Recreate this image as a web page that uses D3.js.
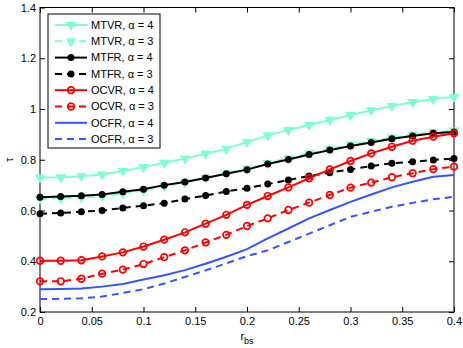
<!DOCTYPE html>
<html>
<head>
<meta charset="utf-8">
<script src="https://cdn.jsdelivr.net/npm/d3@7"></script>
<style>
  body { margin: 0; background: #fff; }
  svg { font-family: "Liberation Sans", Arial, sans-serif; }
</style>
</head>
<body>
<div id="chart"></div>
<script>
'use strict';

const rbs = [0, 0.02, 0.04, 0.06, 0.08, 0.1, 0.12, 0.14, 0.16, 0.18, 0.2,
  0.22, 0.24, 0.26, 0.28, 0.3, 0.32, 0.34, 0.36, 0.38, 0.4];

const mtvr4 = [0.73, 0.731, 0.735, 0.742, 0.756, 0.771, 0.788, 0.805, 0.824, 0.843, 0.87,
  0.896, 0.917, 0.937, 0.957, 0.976, 0.995, 1.012, 1.027, 1.039, 1.048];
const mtvr3 = [0.646, 0.648, 0.651, 0.656, 0.667, 0.679, 0.696, 0.711, 0.729, 0.747, 0.765,
  0.787, 0.806, 0.825, 0.843, 0.86, 0.874, 0.888, 0.899, 0.909, 0.915];
const mtfr4 = [0.652, 0.655, 0.658, 0.663, 0.674, 0.684, 0.7, 0.712, 0.728, 0.745, 0.761,
  0.783, 0.801, 0.821, 0.838, 0.854, 0.868, 0.883, 0.894, 0.904, 0.909];
const mtfr3 = [0.587, 0.59, 0.595, 0.6, 0.61, 0.619, 0.629, 0.645, 0.659, 0.675, 0.688,
  0.704, 0.72, 0.736, 0.749, 0.762, 0.775, 0.786, 0.792, 0.799, 0.805];
const ocvr4 = [0.402, 0.402, 0.404, 0.419, 0.435, 0.458, 0.485, 0.514, 0.548, 0.583, 0.622,
  0.657, 0.691, 0.727, 0.762, 0.795, 0.825, 0.851, 0.875, 0.891, 0.904];
const ocvr3 = [0.321, 0.321, 0.331, 0.351, 0.367, 0.389, 0.416, 0.443, 0.474, 0.504, 0.539,
  0.569, 0.602, 0.631, 0.661, 0.69, 0.71, 0.731, 0.747, 0.763, 0.773];
const ocfr4 = [0.29, 0.291, 0.293, 0.3, 0.31, 0.328, 0.345, 0.365, 0.39, 0.418, 0.448,
  0.49, 0.529, 0.569, 0.602, 0.634, 0.663, 0.691, 0.713, 0.733, 0.74];
const ocfr3 = [0.251, 0.252, 0.254, 0.261, 0.275, 0.29, 0.312, 0.338, 0.364, 0.392, 0.42,
  0.443, 0.476, 0.509, 0.542, 0.575, 0.595, 0.615, 0.63, 0.644, 0.654];

const xTicks = [0, 0.05, 0.1, 0.15, 0.2, 0.25, 0.3, 0.35, 0.4];
const yTicks = [0.2, 0.4, 0.6, 0.8, 1, 1.2, 1.4];

const series = [
  { name: 'MTVR, α = 4', values: mtvr4, color: '#7fffd4', dash: null, marker: 'tri' },
  { name: 'MTVR, α = 3', values: mtvr3, color: '#7fffd4', dash: '7,5', marker: 'tri' },
  { name: 'MTFR, α = 4', values: mtfr4, color: '#000000', dash: null, marker: 'dot' },
  { name: 'MTFR, α = 3', values: mtfr3, color: '#000000', dash: '7,5', marker: 'dot' },
  { name: 'OCVR, α = 4', values: ocvr4, color: '#ff0000', dash: null, marker: 'circle' },
  { name: 'OCVR, α = 3', values: ocvr3, color: '#ff0000', dash: '7,5', marker: 'circle' },
  { name: 'OCFR, α = 4', values: ocfr4, color: '#3355ff', dash: null, marker: null },
  { name: 'OCFR, α = 3', values: ocfr3, color: '#3355ff', dash: '7,5', marker: null }
];

const width = 463, height = 348;
const margin = { top: 7.5, right: 9, bottom: 36, left: 40 };
const plotW = width - margin.left - margin.right;
const plotH = height - margin.top - margin.bottom;

const svg = d3.select('#chart').append('svg')
  .attr('width', width)
  .attr('height', height);

const plot = svg.append('g')
  .attr('transform', `translate(${margin.left}, ${margin.top})`);

const x = d3.scaleLinear().domain([0, 0.4]).range([0, plotW]);
const y = d3.scaleLinear().domain([0.2, 1.4]).range([plotH, 0]);

// axes with inward ticks on all four sides
function styleAxis(g) {
  g.select('.domain').remove();
  g.selectAll('line').attr('stroke', '#000');
  g.selectAll('text').attr('fill', '#000').style('font-size', '11px');
}

plot.append('g')
  .attr('transform', `translate(0, ${plotH})`)
  .call(d3.axisBottom(x).tickValues(xTicks).tickSizeInner(-5).tickSizeOuter(0)
    .tickPadding(5).tickFormat(d3.format('~g')))
  .call(styleAxis);

plot.append('g')
  .call(d3.axisTop(x).tickValues(xTicks).tickSizeInner(-5).tickSizeOuter(0)
    .tickFormat(''))
  .call(styleAxis);

plot.append('g')
  .call(d3.axisLeft(y).tickValues(yTicks).tickSizeInner(-5).tickSizeOuter(0)
    .tickPadding(4).tickFormat(d3.format('~g')))
  .call(styleAxis);

plot.append('g')
  .attr('transform', `translate(${plotW}, 0)`)
  .call(d3.axisRight(y).tickValues(yTicks).tickSizeInner(-5).tickSizeOuter(0)
    .tickFormat(''))
  .call(styleAxis);

plot.append('rect')
  .attr('width', plotW)
  .attr('height', plotH)
  .attr('fill', 'none')
  .attr('stroke', '#000')
  .attr('stroke-width', 1);

// axis labels
const xLab = svg.append('text')
  .attr('x', margin.left + x(0.2))
  .attr('y', 340)
  .attr('text-anchor', 'middle')
  .style('font-size', '11px');
xLab.append('tspan').text('r');
xLab.append('tspan').attr('dy', 4).style('font-size', '9px').text('bs');

svg.append('text')
  .attr('transform', `translate(13, ${margin.top + y(0.8)}) rotate(-90)`)
  .attr('text-anchor', 'middle')
  .style('font-size', '11px')
  .text('τ');

const triPath = d3.symbol().type(d3.symbolTriangle).size(48)();

function drawMarker(g, s, cx, cy) {
  if (s.marker === 'tri') {
    g.append('path')
      .attr('d', triPath)
      .attr('transform', `translate(${cx}, ${cy}) rotate(180)`)
      .attr('fill', s.color);
  } else if (s.marker === 'dot') {
    g.append('circle')
      .attr('cx', cx).attr('cy', cy).attr('r', 3.5)
      .attr('fill', s.color);
  } else if (s.marker === 'circle') {
    g.append('circle')
      .attr('cx', cx).attr('cy', cy).attr('r', 3.3)
      .attr('fill', 'none')
      .attr('stroke', s.color)
      .attr('stroke-width', 1.7);
  }
}

const line = d3.line()
  .x((d, i) => x(rbs[i]))
  .y((d) => y(d));

series.forEach((s) => {
  const g = plot.append('g');
  g.append('path')
    .datum(s.values)
    .attr('d', line)
    .attr('fill', 'none')
    .attr('stroke', s.color)
    .attr('stroke-width', 2)
    .attr('stroke-dasharray', s.dash);
  s.values.forEach((v, i) => drawMarker(g, s, x(rbs[i]), y(v)));
});

// legend
const legend = svg.append('g').attr('transform', 'translate(48, 14)');
legend.append('rect')
  .attr('width', 112)
  .attr('height', 134)
  .attr('fill', '#fff')
  .attr('stroke', '#000')
  .attr('stroke-width', 1);

series.forEach((s, i) => {
  const ry = 11 + i * 16.3;
  const row = legend.append('g');
  row.append('line')
    .attr('x1', 7).attr('x2', 39)
    .attr('y1', ry).attr('y2', ry)
    .attr('stroke', s.color)
    .attr('stroke-width', 2)
    .attr('stroke-dasharray', s.dash);
  drawMarker(row, s, 23, ry);
  row.append('text')
    .attr('x', 43)
    .attr('y', ry)
    .attr('dy', '0.35em')
    .style('font-size', '11px')
    .text(s.name);
});
</script>
</body>
</html>
